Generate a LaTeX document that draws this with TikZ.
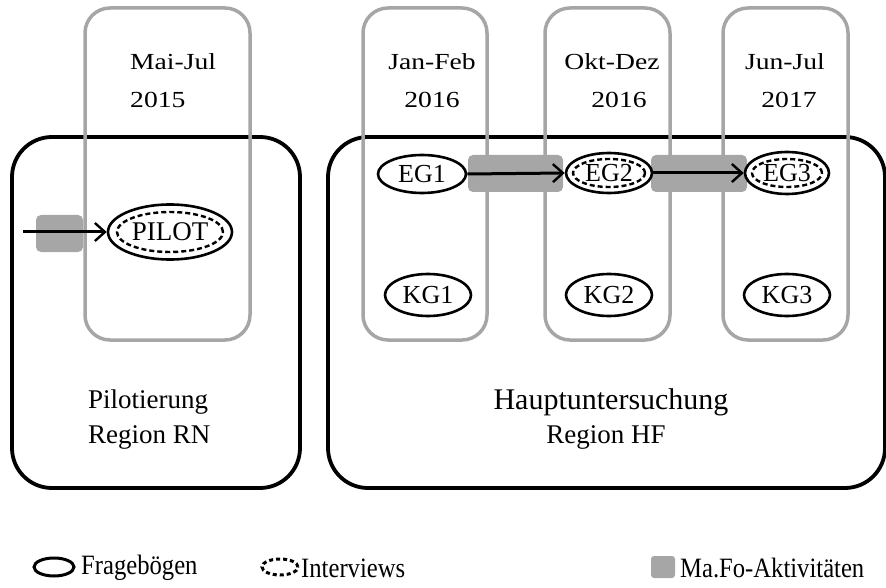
\documentclass[tikz,border=0pt]{standalone}
\usepackage{fontspec}
\setmainfont{Liberation Serif}
\newfontfamily\labfont[FakeStretch=1.2]{Liberation Serif}
\newfontfamily\legfont[FakeStretch=0.88]{Liberation Serif}
\usetikzlibrary{shapes.geometric,arrows.meta}
\definecolor{colgrey}{RGB}{166,166,166}
\tikzset{
  blackbox/.style={draw=black, line width=3.8pt, rounded corners=40pt, minimum height=351pt},
  greycol/.style={draw=colgrey, line width=3.5pt, rounded corners=25pt, minimum width=125pt, minimum height=332pt},
  mafo/.style={fill=colgrey, rounded corners=5pt, minimum height=37pt, inner sep=0pt},
  solidell/.style={ellipse, draw=black, line width=2.6pt, fill=white, inner sep=0pt, minimum width=86pt, minimum height=40pt, font=\fontsize{26}{26}\selectfont},
  dashell/.style={ellipse, draw=black, line width=2.4pt, dash pattern=on 5pt off 3pt, inner sep=0pt},
  datelab/.style={font=\labfont\fontsize{23}{23}\selectfont, inner sep=0pt},
  regionlab/.style={font=\fontsize{27}{27}\selectfont, inner sep=0pt},
  legendlab/.style={font=\legfont\fontsize{28}{28}\selectfont, inner sep=0pt, anchor=west},
  flow/.style={line width=3pt, -{Straight Barb[length=10pt,width=18pt,line width=2.4pt]}}
}
\begin{document}
\begin{tikzpicture}[x=1pt,y=-1pt]
\useasboundingbox (0,0) rectangle (886,588);
% region boxes
\node[blackbox, minimum width=288pt] (pilotbox) at (156,312.5) {};
\node[blackbox, minimum width=557pt] (mainbox) at (606.5,312.5) {};
% time columns
\node[greycol, minimum width=165pt] (col0) at (167.5,174) {};
\node[greycol, minimum width=124pt] (col1) at (425,174) {};
\node[greycol] (col2) at (607.5,174) {};
\node[greycol] (col3) at (785.5,174) {};
% date labels
\node[datelab, anchor=west] (d0a) at (130,62) {Mai-Jul};
\node[datelab, anchor=west] (d0b) at (130,100) {2015};
\node[datelab] (d1a) at (432,62) {Jan-Feb};
\node[datelab] (d1b) at (432,100) {2016};
\node[datelab] (d2a) at (612,62) {Okt-Dez};
\node[datelab] (d2b) at (619,100) {2016};
\node[datelab] (d3a) at (785,62) {Jun-Jul};
\node[datelab] (d3b) at (789,100) {2017};
% Ma.Fo activities
\node[mafo, minimum width=47pt] (bar0) at (59.5,233.5) {};
\node[mafo, minimum width=95pt] (bar1) at (515.5,173.5) {};
\node[mafo, minimum width=96pt] (bar2) at (699,173.5) {};
% groups
\node[solidell, minimum width=124pt, minimum height=55pt, font=\fontsize{27}{27}\selectfont] (pilot) at (170,232) {PILOT};
\node[dashell, minimum width=106pt, minimum height=40pt] (piloti) at (170,232) {};
\node[solidell, minimum width=88pt, minimum height=38pt] (eg1) at (422,174) {EG1};
\node[solidell] (eg2) at (609,173) {EG2};
\node[dashell, minimum width=72pt, minimum height=28pt] (eg2i) at (609,173) {};
\node[solidell, minimum width=84pt, minimum height=42pt] (eg3) at (787,173) {EG3};
\node[dashell, minimum width=70pt, minimum height=28pt] (eg3i) at (787,173) {};
\node[solidell, minimum height=42pt] (kg1) at (428,295) {KG1};
\node[solidell, minimum height=42pt] (kg2) at (609,295) {KG2};
\node[solidell, minimum height=42pt] (kg3) at (787,295) {KG3};
% flows
\coordinate (start) at (23,232);
\draw[flow] (start) -- (pilot.west);
\draw[flow] (eg1.east) -- (eg2.west);
\draw[flow] (eg2.east) -- (eg3.west);
% region labels
\node[regionlab, anchor=west] (r0a) at (88,402) {Pilotierung};
\node[regionlab, anchor=west] (r0b) at (88,437) {Region RN};
\node[regionlab, font=\fontsize{30}{30}\selectfont] (r1a) at (611,402) {Hauptuntersuchung};
\node[regionlab] (r1b) at (606,437) {Region HF};
% legend
\node[ellipse, draw=black, line width=3pt, minimum width=40pt, minimum height=18pt, inner sep=0pt] (lg1) at (54,567) {};
\node[legendlab] (lt1) at (81,568) {Fragebögen};
\node[dashell, line width=3pt, dash pattern=on 4pt off 3pt, minimum width=36pt, minimum height=16pt] (lg2) at (280,567) {};
\node[legendlab] (lt2) at (301,568) {Interviews};
\node[fill=colgrey, rounded corners=3pt, minimum width=24pt, minimum height=22pt, inner sep=0pt] (lg3) at (663,567) {};
\node[legendlab] (lt3) at (680,568) {Ma.Fo-Aktivitäten};
\end{tikzpicture}
\end{document}
